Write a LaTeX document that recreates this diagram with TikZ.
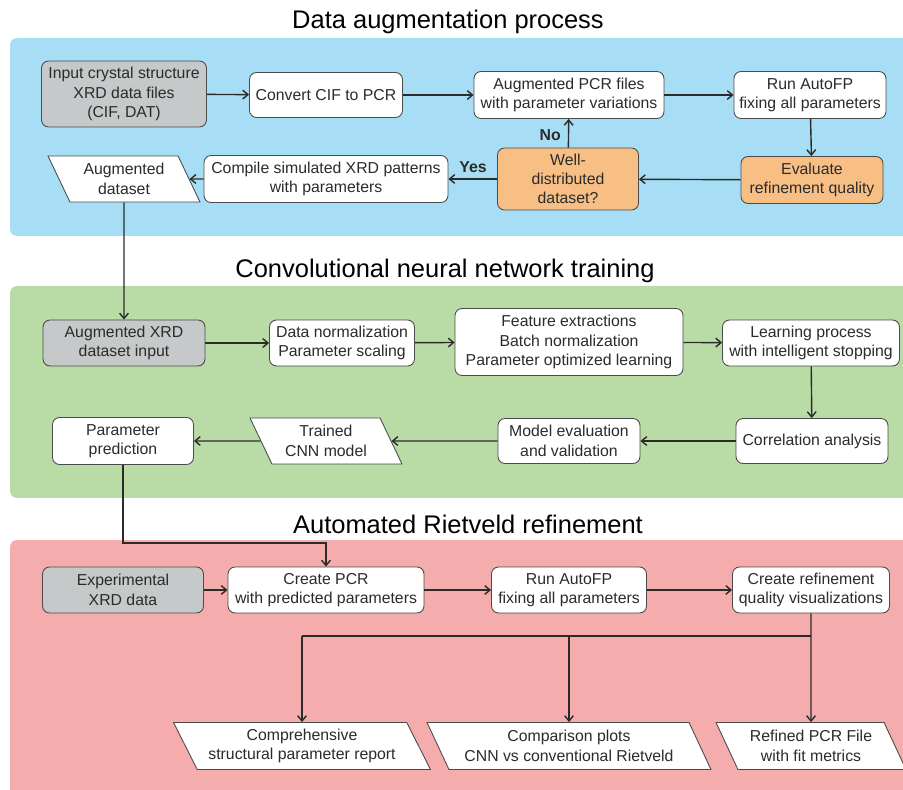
\documentclass[tikz,border=0pt]{standalone}
\usepackage{fontspec}
\setmainfont{Liberation Sans}
\usepackage{xcolor}
\usepackage{tikz}
\usetikzlibrary{arrows.meta,shapes.geometric}
\definecolor{augblue}{HTML}{A8DEF5}
\definecolor{cnngreen}{HTML}{B9DCA6}
\definecolor{rietred}{HTML}{F4ACAC}
\definecolor{inputgray}{HTML}{C5C9CA}
\definecolor{checkorange}{HTML}{F7BF83}
\definecolor{ink}{HTML}{2B2B2B}

\begin{document}
\begin{tikzpicture}[x=0.02cm,y=-0.02cm,
    every node/.style={font=\fontsize{9}{11}\selectfont,text=ink},
    box/.style={draw=ink!85,line width=0.5pt,rounded corners=4pt,fill=white,align=center,inner sep=2pt,minimum height=0.92cm},
    inbox/.style={box,fill=inputgray},
    qbox/.style={box,fill=checkorange},
    databox/.style={draw=ink!85,line width=0.5pt,fill=white,align=center,trapezium,trapezium left angle=120,trapezium right angle=60,trapezium stretches body,minimum height=0.92cm,inner sep=2pt},
    arr/.style={draw=ink,line width=0.8pt,-{Straight Barb[length=3pt,width=5pt]}},
    link/.style={draw=ink,line width=0.8pt},
    title/.style={font=\fontsize{14.5}{17}\selectfont,text=black},
    lbl/.style={font=\fontsize{9}{11}\selectfont\bfseries}]
  \useasboundingbox (0,0) rectangle (903,790);
  % panels
  \fill[augblue,rounded corners=4pt] (10,38) rectangle (915,236);
  \fill[cnngreen,rounded corners=4pt] (10,286) rectangle (915,498);
  \fill[rietred,rounded corners=4pt] (10,540) rectangle (915,800);
  \node[title] (ttl1) at (448,22) {Data augmentation process};
  \node[title] (ttl2) at (445,271) {Convolutional neural network training};
  \node[title] (ttl3) at (468,524) {Automated Rietveld refinement};

  % data augmentation
  \node[inbox,minimum width=3.3cm,minimum height=1.32cm] (in1) at (124,94) {Input crystal structure\\XRD data files\\(CIF, DAT)};
  \node[box,minimum width=3.06cm,minimum height=0.9cm] (cv) at (326,95) {Convert CIF to PCR};
  \node[box,minimum width=3.8cm,minimum height=0.94cm] (ap) at (569,95) {Augmented PCR files\\with parameter variations};
  \node[box,minimum width=3.04cm,minimum height=0.94cm] (ra) at (810,95) {Run AutoFP\\fixing all parameters};
  \node[qbox,minimum width=2.84cm,minimum height=0.94cm] (ev) at (812,180) {Evaluate\\refinement quality};
  \node[qbox,minimum width=2.82cm,minimum height=1.24cm] (wd) at (568,179) {Well-\\distributed\\dataset?};
  \node[box,minimum width=4.88cm,minimum height=0.94cm] (cs) at (326,179) {Compile simulated XRD patterns\\with parameters};
  \node[databox,minimum width=3.04cm] (ad) at (124,179) {Augmented\\dataset};
  \foreach \a/\b in {in1/cv,cv/ap,ap/ra,ra/ev,ev/wd,wd/cs,cs/ad}
    \draw[arr] (\a) -- (\b);
  \draw[arr] (wd) -- (ap) node[pos=0.45,left,lbl,inner sep=4pt]{No};
  \node[lbl] (yes) at (473,167) {Yes};

  % cnn training
  \node[inbox,minimum width=3.24cm] (in2) at (124,343) {Augmented XRD\\dataset input};
  \node[box,minimum width=2.9cm] (dn) at (342,343) {Data normalization\\Parameter scaling};
  \node[box,minimum width=4.56cm,minimum height=1.34cm] (fe) at (569,342) {Feature extractions\\Batch normalization\\Parameter optimized learning};
  \node[box,minimum width=3.54cm] (lp) at (811,343) {Learning process\\with intelligent stopping};
  \node[box,minimum width=3.04cm,minimum height=0.9cm] (ca) at (812,441) {Correlation analysis};
  \node[box,minimum width=2.84cm,minimum height=0.9cm] (me) at (569,441) {Model evaluation\\and validation};
  \node[databox,minimum width=3.04cm] (tc) at (326,441) {Trained\\CNN model};
  \node[box,minimum width=2.82cm,minimum height=0.94cm] (pp) at (123,441) {Parameter\\prediction};
  \foreach \a/\b in {in2/dn,dn/fe,fe/lp,lp/ca,ca/me,me/tc,tc/pp}
    \draw[arr] (\a) -- (\b);
  \draw[arr] (ad.south) -- (in2.north);

  % rietveld refinement
  \node[inbox,minimum width=3.22cm] (ex) at (123,590) {Experimental\\XRD data};
  \node[box,minimum width=3.92cm] (cp) at (326,590) {Create PCR\\with predicted parameters};
  \node[box,minimum width=3.1cm] (rb) at (569,590) {Run AutoFP\\fixing all parameters};
  \node[box,minimum width=3.14cm] (cr) at (811,590) {Create refinement\\quality visualizations};
  \node[databox,minimum width=5.14cm,minimum height=0.94cm] (o1) at (302,746) {Comprehensive\\structural parameter report};
  \node[databox,minimum width=5.68cm,minimum height=0.94cm] (o2) at (569,746) {Comparison plots\\CNN vs conventional Rietveld};
  \node[databox,minimum width=3.8cm,minimum height=0.94cm] (o3) at (811,746) {Refined PCR File\\with fit metrics};
  \foreach \a/\b in {ex/cp,cp/rb,rb/cr,cr/o3}
    \draw[arr] (\a) -- (\b);
  \draw[arr] (pp.south) -- ++(0,78) -| (cp.north);
  \coordinate (fan) at (811,636);
  \draw[link] (fan -| o1.north) -- (fan);
  \foreach \o in {o1,o2}
    \draw[arr] (fan -| \o.north) -- (\o.north);
\end{tikzpicture}
\end{document}
